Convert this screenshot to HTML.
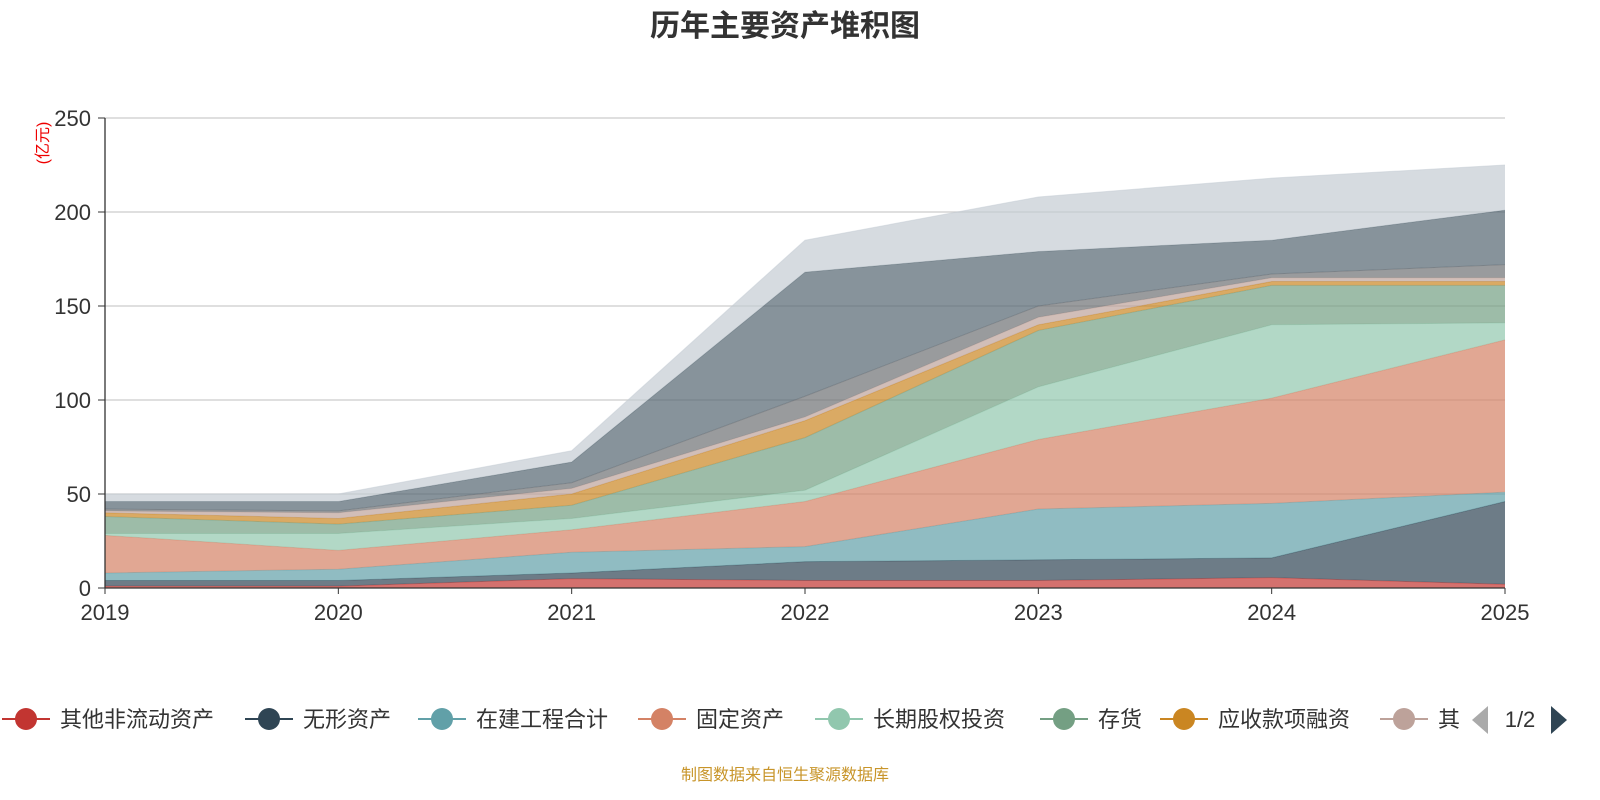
<!DOCTYPE html>
<html><head><meta charset="utf-8"><style>
html,body{margin:0;padding:0;width:1600px;height:800px;background:#fff;overflow:hidden;font-family:"Liberation Sans","Noto Sans CJK SC",sans-serif}
svg{display:block}
</style></head><body>
<svg id="chart" width="1600" height="800" xmlns="http://www.w3.org/2000/svg" font-family="Liberation Sans, Noto Sans CJK SC, sans-serif"></svg>
<script>
const years=["2019","2020","2021","2022","2023","2024","2025"];
const seriesNames=["其他非流动资产","无形资产","在建工程合计","固定资产","长期股权投资","存货","应收款项融资","其他应收款","交易性金融资产","应收账款","货币资金"];
const s1=[1,1,5,4,4,5.5,2];
const s2=[3,3,3,10,11,10.5,44];
const s3=[4,6,11,8,27,29,5];
const s4=[20,10,12,24,37,56,81];
const s5=[1,9,6,6,28,39,9];
const s6=[9,5,7,28,30,21,20];
const s7=[2,3,6,9,3,2,2];
const s8=[1,3,3,2,4,2,2];
const s9=[1,1,3,11,6,2,7];
const s10=[4,5,11,66,29,18,29];
const s11=[4,4,6,17,29,33,24];
const seriesVals=[s1,s2,s3,s4,s5,s6,s7,s8,s9,s10,s11];
const yTicks=[0,50,100,150,200,250];
const colors=["#c23531","#2f4554","#61a0a8","#d48265","#91c7ae","#749f83","#ca8622","#bda29a","#6e7074","#546570","#c4ccd3"];
const svg=document.getElementById('chart');
const NS="http://www.w3.org/2000/svg";
const X0=105,X1=1505,Y0=588,Y1=118,YMAX=250;
const xs=i=>X0+(X1-X0)*i/(years.length-1);
const ys=v=>Y0-(Y0-Y1)*v/YMAX;
function mk(tag,attrs,parent){const e=document.createElementNS(NS,tag);for(const k in attrs)e.setAttribute(k,attrs[k]);(parent||svg).appendChild(e);return e;}
let t=mk('text',{x:785,y:36,'text-anchor':'middle','font-size':30,'font-weight':'bold',fill:'#333'});t.textContent="历年主要资产堆积图";


t=mk('text',{x:48,y:143,'text-anchor':'middle','font-size':16,fill:'#e00',transform:'rotate(-90 48 143)'});t.textContent="(亿元)";


yTicks.forEach(v=>{
  if(v>0){const l=mk('line',{x1:X0,x2:X1,y1:ys(v),y2:ys(v),stroke:'#ccc','stroke-width':1.3});
  
  }
  mk('line',{x1:X0-7,x2:X0,y1:ys(v),y2:ys(v),stroke:'#333'});
  const tx=mk('text',{x:X0-14,y:ys(v)+8,'text-anchor':'end','font-size':22,fill:'#333'});tx.textContent=v;
  
  
});
let cum=years.map(()=>0);
seriesVals.forEach((vals,si)=>{
  const lower=cum.slice();cum=cum.map((c,i)=>c+vals[i]);
  let d='';years.forEach((y,i)=>{d+=(i?'L':'M')+xs(i)+','+ys(cum[i]);});
  for(let i=years.length-1;i>=0;i--)d+='L'+xs(i)+','+ys(lower[i]);
  const p=mk('path',{d:d+'Z',fill:colors[si],'fill-opacity':0.7});
  
  
  let ld='';years.forEach((y,i)=>{ld+=(i?'L':'M')+xs(i)+','+ys(cum[i]);});
  mk('path',{d:ld,fill:'none',stroke:colors[si],'stroke-width':1,'stroke-opacity':0.5});
});
mk('line',{x1:X0,x2:X0,y1:Y1,y2:Y0,stroke:'#333','stroke-width':1.3});
mk('line',{x1:X0,x2:X1,y1:Y0,y2:Y0,stroke:'#333','stroke-width':1.3});
years.forEach((y,i)=>{
  mk('line',{x1:xs(i),x2:xs(i),y1:Y0,y2:Y0+6,stroke:'#333'});
  const tx=mk('text',{x:xs(i),y:Y0+32,'text-anchor':'middle','font-size':22,fill:'#333'});tx.textContent=y;
  
  
});
const legX=[2,245,418,638,815,1040,1160,1380];
const clip=mk('clipPath',{id:'lc'});mk('rect',{x:0,y:690,width:1460,height:60},clip);
const lg=mk('g',{'clip-path':'url(#lc)'});
legX.forEach((x,i)=>{
  const g=mk('g',{},lg);
  
  
  mk('line',{x1:x,x2:x+48,y1:719,y2:719,stroke:colors[i],'stroke-width':2},g);
  mk('circle',{cx:x+24,cy:719,r:11,fill:colors[i]},g);
  const tx=mk('text',{x:x+58,y:727,'font-size':22,fill:'#333'},g);tx.textContent=seriesNames[i];
});
let pv=mk('polygon',{points:'1488,706 1488,734 1472,720',fill:'#aaa'});


t=mk('text',{x:1520,y:727,'text-anchor':'middle','font-size':22,fill:'#333'});t.textContent="1/2";


pv=mk('polygon',{points:'1551,706 1551,734 1567,720',fill:'#2f4554'});


t=mk('text',{x:785,y:780,'text-anchor':'middle','font-size':16,fill:'#c8952a'});t.textContent="制图数据来自恒生聚源数据库";


</script>
</body></html>
